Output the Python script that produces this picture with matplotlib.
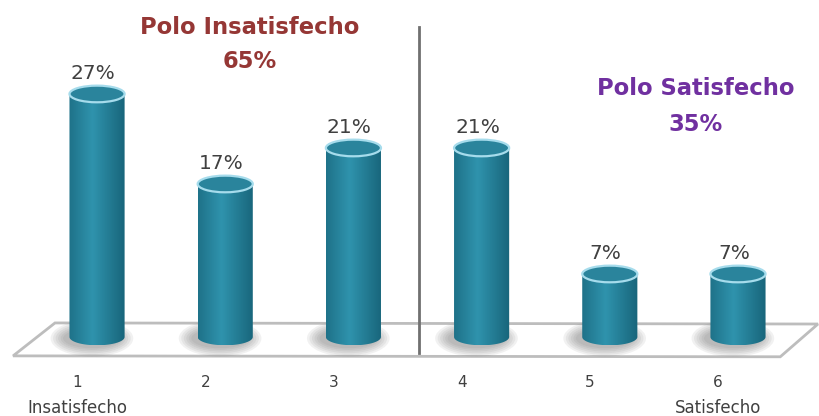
import numpy as np
import matplotlib
matplotlib.use('Agg')
import matplotlib.pyplot as plt
from matplotlib.patches import Ellipse, Polygon

# data
categories=[1,2,3,4,5,6]
values=[27,17,21,21,7,7]
end_labels={1:'Insatisfecho',6:'Satisfecho'}
poles=[('Polo Insatisfecho','65%','#953735'),('Polo Satisfecho','35%','#7030a0')]

plt.rcParams['font.family']='DejaVu Sans'

fig=plt.figure(figsize=(8.19,4.16),dpi=100)
ax=fig.add_axes([0,0,1,1])
ax.set_xlim(0.243,6.632)
ax.set_ylim(-8.78,37.44)
ax.axis('off')

w=0.43      # cylinder width (data units)
eh=1.85     # ellipse height (data units)
tick_dx=-0.155  # tick labels sit left of the bars (perspective)

# floor
floor=Polygon([(0.345,-2.1),(6.33,-2.2),(6.624,1.44),(0.672,1.56)],closed=True,
	facecolor='white',edgecolor='#bdbdbd',linewidth=2,zorder=1)
ax.add_patch(floor)

# gradient across the cylinder body
grad=np.linspace(0,1,60)
shade=1-np.abs(grad-0.42)*1.5
cmap=matplotlib.colors.LinearSegmentedColormap.from_list('teal',['#155f74','#2f93ad'])

for x,v in zip(categories,values):
	# shadow on floor
	for k in range(6):
		ax.add_patch(Ellipse((x-0.04,-0.15),w*(1.05+0.09*k),eh*(1.2+0.2*k),
			facecolor='#555555',edgecolor='none',alpha=0.08,zorder=2))
	# body (rectangle + bottom half ellipse)
	t=np.linspace(np.pi,2*np.pi,40)
	pts=[(x-w/2,v)]+[(x+w/2*np.cos(a),eh/2*np.sin(a)) for a in t]+[(x+w/2,v)]
	body=Polygon(pts,closed=True,facecolor='none',edgecolor='none',zorder=3)
	ax.add_patch(body)
	im=ax.imshow(shade[None,:],cmap=cmap,vmin=0,vmax=1,aspect='auto',
		extent=[x-w/2,x+w/2,-eh/2,v],zorder=3,interpolation='bilinear')
	im.set_clip_path(body)
	# top
	ax.add_patch(Ellipse((x,v),w,eh,facecolor='#2a849c',edgecolor='#a6dcec',linewidth=1.6,zorder=4))
	ax.annotate('{:d}%'.format(v),(x,v),xytext=(-3,8),textcoords='offset points',
		ha='center',va='bottom',fontsize=14.5,color='#404040',zorder=5)
	ax.text(x+tick_dx,-5.1,str(x),ha='center',va='center',fontsize=11,color='#404040')
	if x in end_labels:
		ax.text(x+tick_dx,-7.9,end_labels[x],ha='center',va='center',fontsize=12,color='#404040')

# divider between the two poles
ax.plot([3.51,3.51],[-1.8,34.4],color='#707070',linewidth=2,zorder=6)

ax.text(0.305,0.935,poles[0][0],transform=ax.transAxes,ha='center',va='center',
	fontsize=16.3,fontweight='bold',color=poles[0][2])
ax.text(0.305,0.851,poles[0][1],transform=ax.transAxes,ha='center',va='center',
	fontsize=16.3,fontweight='bold',color=poles[0][2])
ax.text(0.849,0.788,poles[1][0],transform=ax.transAxes,ha='center',va='center',
	fontsize=16.3,fontweight='bold',color=poles[1][2])
ax.text(0.849,0.700,poles[1][1],transform=ax.transAxes,ha='center',va='center',
	fontsize=16.3,fontweight='bold',color=poles[1][2])

fig.savefig('out.png',dpi=100)
